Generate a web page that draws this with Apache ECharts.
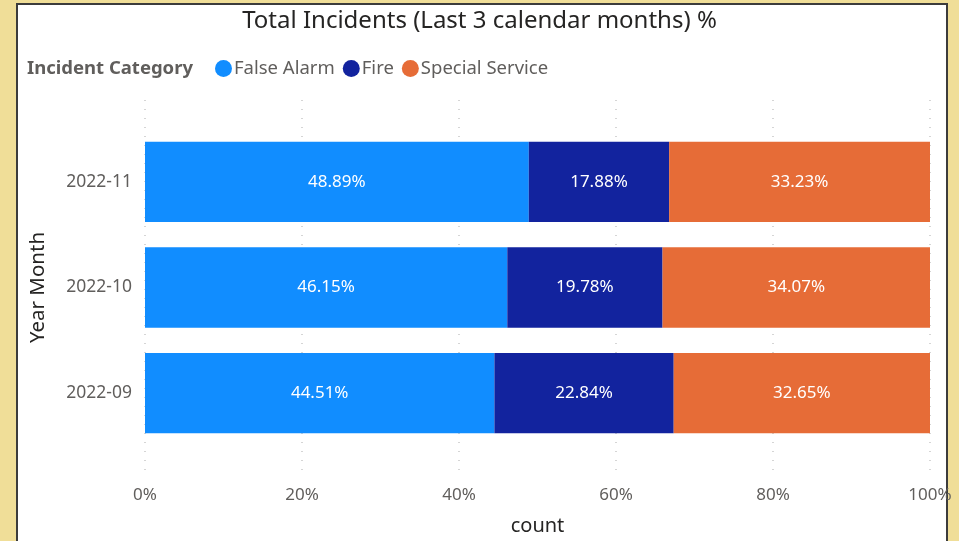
<!DOCTYPE html>
<html>
<head>
<meta charset="utf-8">
<script src="https://cdn.jsdelivr.net/npm/echarts@6/dist/echarts.min.js"></script>
<style>
  body { margin: 0; background: #f0de98; overflow: hidden; }
  #frame { position: absolute; left: 16px; top: 3px; width: 928px; height: 560px;
           border: 2px solid #3c3c3c; background: #fff; }
  #main { position: absolute; left: 0; top: 0; width: 959px; height: 541px; }
</style>
</head>
<body>
<div id="frame"></div>
<div id="main"></div>
<script>
var chartDom = document.getElementById('main');
var myChart = echarts.init(chartDom);
var option;

const months = ['2022-09', '2022-10', '2022-11'];
const falseAlarm = [44.51, 46.15, 48.89];
const fire = [22.84, 19.78, 17.88];
const specialService = [32.65, 34.07, 33.23];
const xTicks = [0, 20, 40, 60, 80, 100];

const fontFam = '"Noto Sans", "DejaVu Sans", sans-serif';

function barSeries(name, data) {
  return {
    name: name,
    type: 'bar',
    stack: 'total',
    xAxisIndex: 0,
    yAxisIndex: 0,
    barCategoryGap: '24%',
    data: data,
    label: {
      show: true,
      position: 'inside',
      color: '#fff',
      fontSize: 17,
      fontFamily: fontFam,
      formatter: function (p) {
        return p.value.toFixed(2) + '%';
      }
    }
  };
}

option = {
  color: ['#118dff', '#12239e', '#e66c37'],
  textStyle: { fontFamily: fontFam },
  title: {
    text: 'Total Incidents (Last 3 calendar months) %',
    left: 'center',
    top: 4,
    textStyle: { fontSize: 24, fontWeight: 'normal', color: '#252423', fontFamily: fontFam }
  },
  graphic: [
    {
      type: 'text',
      left: 27,
      top: 59,
      style: { text: 'Incident Category', fontSize: 18.5, fontWeight: 'bold', fill: '#605e5c', fontFamily: fontFam }
    }
  ],
  legend: {
    left: 210,
    top: 54,
    icon: 'circle',
    itemWidth: 17,
    itemHeight: 17,
    itemGap: 8,
    textStyle: { fontSize: 18.5, color: '#605e5c', padding: [0, 0, 0, -3] },
    data: ['False Alarm', 'Fire', 'Special Service']
  },
  grid: [
    { left: 145, right: 29, top: 129, bottom: 95 },
    { left: 145, right: 29, top: 100, bottom: 61 }
  ],
  xAxis: [
    { type: 'value', gridIndex: 0, min: 0, max: 100, show: false },
    {
      type: 'value',
      gridIndex: 1,
      min: xTicks[0],
      max: xTicks[xTicks.length - 1],
      interval: 20,
      name: 'count',
      nameLocation: 'middle',
      nameGap: 40,
      nameTextStyle: { fontSize: 20, color: '#252423' },
      axisLine: { show: false },
      axisTick: { show: false },
      axisLabel: { fontSize: 17, color: '#605e5c', margin: 11, formatter: '{value}%' },
      splitLine: { show: true, lineStyle: { color: '#c8c8c8', type: [1, 8], width: 1.5 } }
    }
  ],
  yAxis: [
    {
      type: 'category',
      gridIndex: 0,
      data: months,
      name: 'Year Month',
      nameLocation: 'middle',
      nameGap: 96,
      nameTextStyle: { fontSize: 20.5, color: '#252423' },
      axisLine: { show: false },
      axisTick: { show: false },
      axisLabel: { fontSize: 17.5, color: '#605e5c', margin: 13 }
    },
    { type: 'value', gridIndex: 1, show: false }
  ],
  series: [
    barSeries('False Alarm', falseAlarm),
    barSeries('Fire', fire),
    barSeries('Special Service', specialService)
  ]
};

option && myChart.setOption(option);
</script>
</body>
</html>
